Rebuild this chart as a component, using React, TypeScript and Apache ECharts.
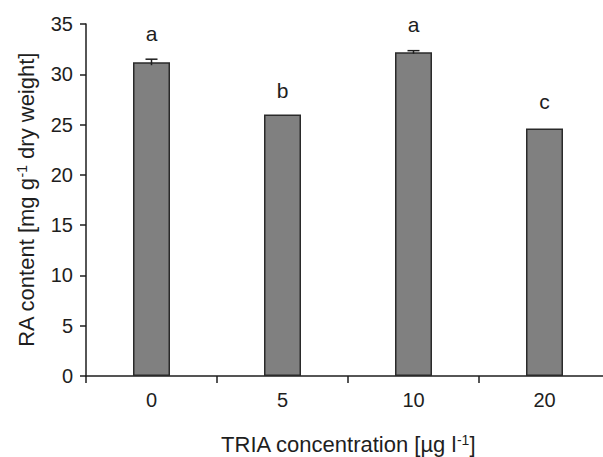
import React, { useEffect, useRef } from "react";
import * as echarts from "echarts";

const categories = ["0", "5", "10", "20"];
const values = [31.2, 26.0, 32.2, 24.6];
const errors = [0.3, 0, 0.15, 0];
const letters = ["a", "b", "a", "c"];
const letterGaps = [18, 14, 17, 17];
const yTicks = { min: 0, max: 35, interval: 5 };

export default function App() {
  const ref = useRef<HTMLDivElement>(null);
  useEffect(() => {
    if (!ref.current) return;
    const chart = echarts.init(ref.current, undefined, { renderer: "svg" });
    const font = "Liberation Sans, Arial, sans-serif";
    const ink = "#1e1e1e";
    chart.setOption({
      animation: false,
      grid: { left: 86, top: 24, width: 524, height: 352, outerBoundsMode: "none", containLabel: false },
      xAxis: {
        type: "category",
        data: categories,
        boundaryGap: true,
        axisLine: { lineStyle: { color: ink, width: 1.5 } },
        axisTick: { show: true, length: 7, lineStyle: { color: ink, width: 1.5 } },
        axisLabel: { fontSize: 20, color: ink, fontFamily: font, margin: 14 },
        name: "{n|TRIA concentration [µg l}{s|-1}{n|]}",
        nameLocation: "middle",
        nameGap: 57,
        nameTextStyle: {
          rich: {
            n: { fontSize: 22, color: ink, fontFamily: font },
            s: { fontSize: 14, color: ink, fontFamily: font, verticalAlign: "top", padding: [0, 0, 9, 0] },
          },
        },
      },
      yAxis: {
        type: "value",
        min: yTicks.min,
        max: yTicks.max,
        interval: yTicks.interval,
        splitLine: { show: false },
        axisLine: { show: true, lineStyle: { color: ink, width: 1.5 } },
        axisTick: { show: true, length: 6, lineStyle: { color: ink, width: 1.5 } },
        axisLabel: { fontSize: 20, color: ink, fontFamily: font, margin: 13 },
        name: "{n|RA content [mg g}{s|-1}{n| dry weight]}",
        nameLocation: "middle",
        nameRotate: 90,
        nameGap: 48,
        nameTextStyle: {
          rich: {
            n: { fontSize: 22, color: ink, fontFamily: font },
            s: { fontSize: 14, color: ink, fontFamily: font, verticalAlign: "top", padding: [0, 0, 9, 0] },
          },
        },
      },
      series: [
        {
          type: "bar",
          data: values.map((v, i) => ({
            value: v,
            label: {
              show: true,
              position: "top",
              distance: letterGaps[i],
              formatter: letters[i],
              fontSize: 21,
              color: ink,
              fontFamily: font,
            },
          })),
          barWidth: 37,
          itemStyle: { color: "#808080", borderColor: "#2a2a2a", borderWidth: 1.5 },
        },
        {
          type: "custom",
          data: values.map((v, i) => [i, v, errors[i]]),
          z: 5,
          renderItem: (params: any, api: any) => {
            const x = api.value(0);
            const v = api.value(1);
            const e = api.value(2);
            if (!e) return { type: "group", children: [] };
            const top = api.coord([x, v + e]);
            const bot = api.coord([x, v - e]);
            const hw = 6;
            const style = { stroke: ink, lineWidth: 1.5 };
            return {
              type: "group",
              children: [
                { type: "line", shape: { x1: top[0], y1: top[1], x2: bot[0], y2: bot[1] }, style },
                { type: "line", shape: { x1: top[0] - hw, y1: top[1], x2: top[0] + hw, y2: top[1] }, style },
              ],
            };
          },
        },
      ],
    });
    return () => chart.dispose();
  }, []);
  return (
    <div
      ref={ref}
      style={{ position: "fixed", left: 0, top: 0, width: 603, height: 457, background: "#fff" }}
    />
  );
}
